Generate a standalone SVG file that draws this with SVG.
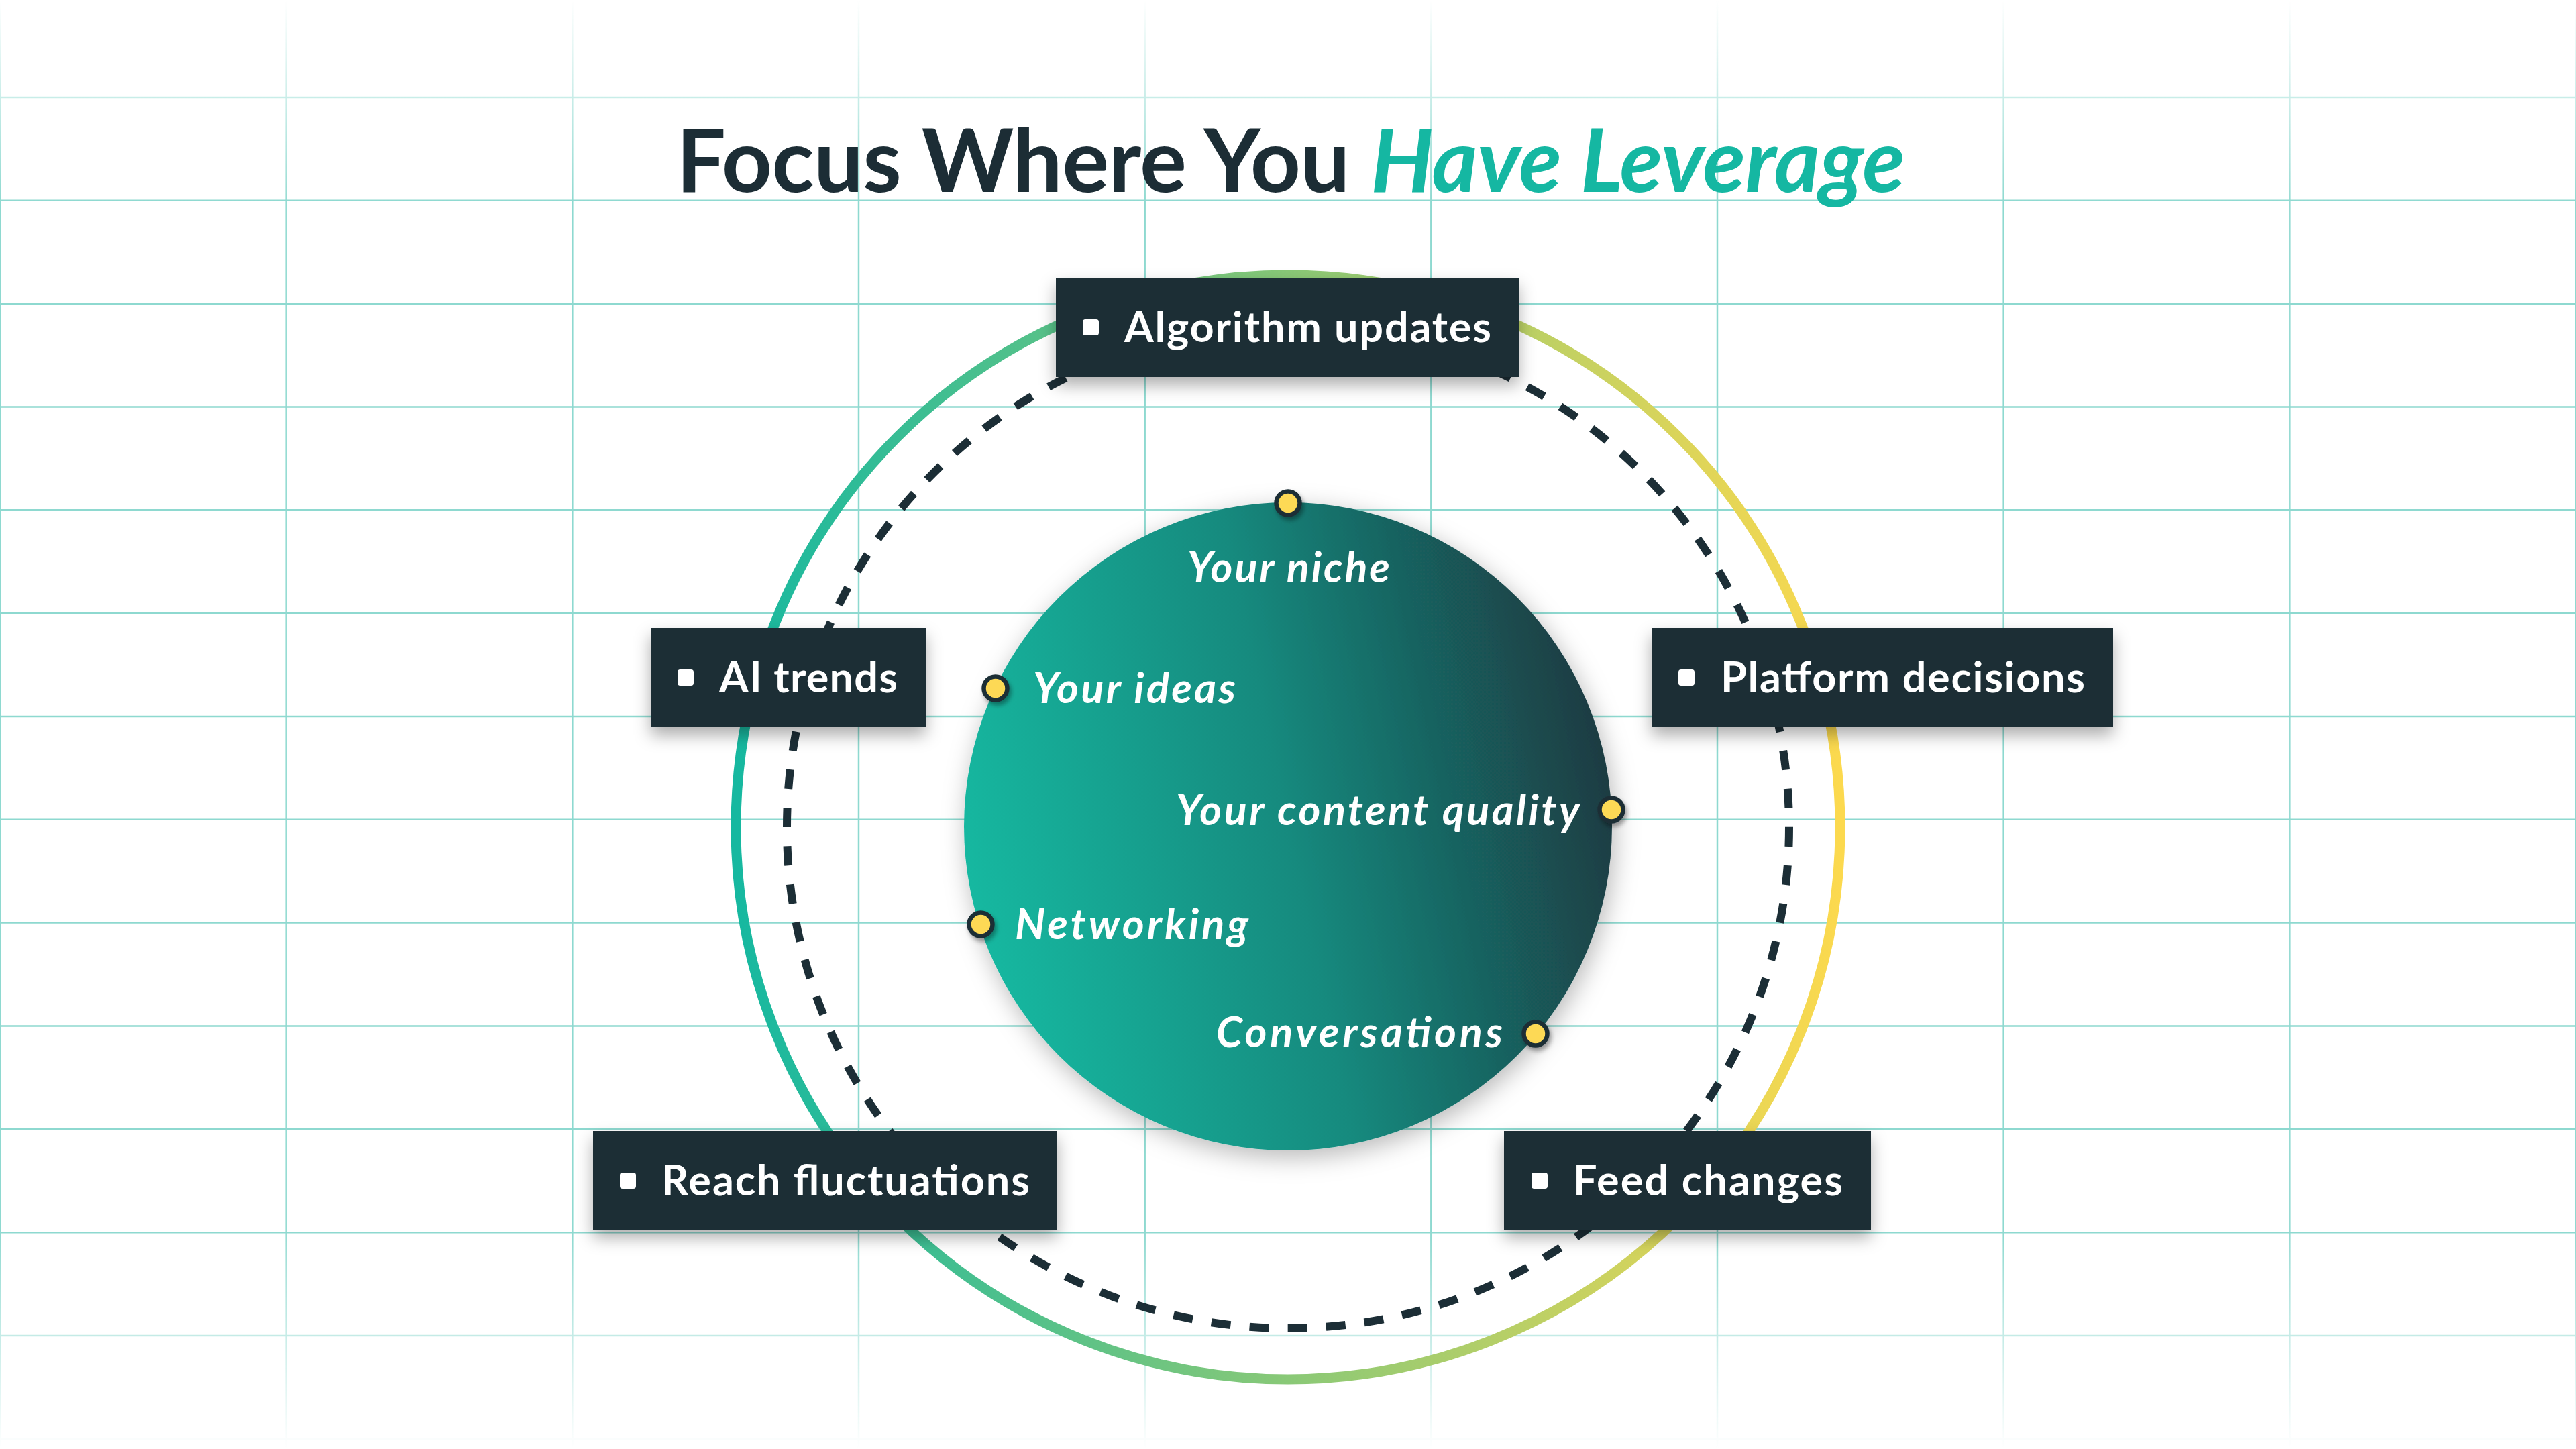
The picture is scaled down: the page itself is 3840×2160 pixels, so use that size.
<svg xmlns="http://www.w3.org/2000/svg" width="3840" height="2160" viewBox="0 0 3840 2160">
  <defs>
    <style>
      .grid { stroke: #8ed9d0; stroke-width: 2.5; fill: none; }
      .box { fill: #1c2e36; }
      .bullet { fill: #ffffff; }
      .blabel { font-family: "Lato", "Liberation Sans", sans-serif; font-weight: 700; font-size: 63px; fill: #ffffff; }
      .ilabel { font-family: "Lato", "Liberation Sans", sans-serif; font-weight: 700; font-style: italic; font-size: 63px; fill: #ffffff; }
      .dot { fill: #fdd954; stroke: #1c2e36; stroke-width: 6.5; }
      .title { font-family: "Lato", "Liberation Sans", sans-serif; font-weight: 700; font-size: 131px; }
    </style>
    <linearGradient id="fadeGrad" x1="0" y1="0" x2="0" y2="2160" gradientUnits="userSpaceOnUse">
      <stop offset="0" stop-color="#fff" stop-opacity="0"/>
      <stop offset="0.14" stop-color="#fff" stop-opacity="1"/>
      <stop offset="0.85" stop-color="#fff" stop-opacity="1"/>
      <stop offset="1" stop-color="#fff" stop-opacity="0"/>
    </linearGradient>
    <mask id="gridMask" maskUnits="userSpaceOnUse" x="0" y="0" width="3840" height="2160">
      <rect x="0" y="0" width="3840" height="2160" fill="url(#fadeGrad)"/>
    </mask>
    <linearGradient id="ringGrad" x1="1097" y1="0" x2="2743" y2="0" gradientUnits="userSpaceOnUse">
      <stop offset="0" stop-color="#16b8a0"/>
      <stop offset="1" stop-color="#fcd94e"/>
    </linearGradient>
    <linearGradient id="coreGrad" x1="1437" y1="1330" x2="2403" y2="1130" gradientUnits="userSpaceOnUse">
      <stop offset="0" stop-color="#14b9a1"/>
      <stop offset="0.5" stop-color="#178a7e"/>
      <stop offset="1" stop-color="#1b3a41"/>
    </linearGradient>
    <filter id="boxShadow" x="-20%" y="-40%" width="140%" height="190%">
      <feDropShadow dx="0" dy="12" stdDeviation="12" flood-color="#000" flood-opacity="0.32"/>
    </filter>
    <filter id="coreShadow" x="-20%" y="-20%" width="140%" height="140%">
      <feDropShadow dx="4" dy="10" stdDeviation="18" flood-color="#000" flood-opacity="0.28"/>
    </filter>
    <filter id="dotShadow" x="-50%" y="-50%" width="200%" height="200%">
      <feDropShadow dx="3" dy="5" stdDeviation="3" flood-color="#000" flood-opacity="0.35"/>
    </filter>
  </defs>

  <rect x="0" y="0" width="3840" height="2160" fill="#ffffff"/>

  <g id="grid" class="grid" mask="url(#gridMask)">
    <path d="M0,0V2160 M426.67,0V2160 M853.33,0V2160 M1280,0V2160 M1706.67,0V2160 M2133.33,0V2160 M2560,0V2160 M2986.67,0V2160 M3413.33,0V2160 M3840,0V2160"/>
    <path d="M0,145H3840 M0,298.8H3840 M0,452.7H3840 M0,606.5H3840 M0,760.3H3840 M0,914.2H3840 M0,1068H3840 M0,1221.8H3840 M0,1375.6H3840 M0,1529.5H3840 M0,1683.3H3840 M0,1837.2H3840 M0,1991H3840 M0,2145H3840"/>
  </g>

  <g id="title">
    <text class="title" x="1008" y="286" textLength="1832"><tspan fill="#1c2d35">Focus Where You </tspan><tspan fill="#15b7a2" font-style="italic">Have Leverage</tspan></text>
  </g>

  <g id="connectors">
    <circle id="outer-ring" cx="1920" cy="1233" r="823" fill="none" stroke="url(#ringGrad)" stroke-width="15"/>
    <circle id="dashed-ring" cx="1920" cy="1233" r="747" fill="none" stroke="#1c2e36" stroke-width="12" stroke-dasharray="29 28.23"/>
  </g>

  <g id="core">
    <circle cx="1920" cy="1232" r="483" fill="url(#coreGrad)" filter="url(#coreShadow)"/>
  </g>

  <g id="inner-your-niche">
    <text class="ilabel" x="1921" y="868" text-anchor="middle" textLength="302">Your niche</text>
    <circle class="dot" cx="1920" cy="750" r="17.5" filter="url(#dotShadow)"/>
  </g>
  <g id="inner-your-ideas">
    <circle class="dot" cx="1484" cy="1026" r="17.5" filter="url(#dotShadow)"/>
    <text class="ilabel" x="1540" y="1048" textLength="302">Your ideas</text>
  </g>
  <g id="inner-content-quality">
    <text class="ilabel" x="1753" y="1230" textLength="602">Your content quality</text>
    <circle class="dot" cx="2402" cy="1207" r="17.5" filter="url(#dotShadow)"/>
  </g>
  <g id="inner-networking">
    <circle class="dot" cx="1462" cy="1378" r="17.5" filter="url(#dotShadow)"/>
    <text class="ilabel" x="1513" y="1400" textLength="348">Networking</text>
  </g>
  <g id="inner-conversations">
    <text class="ilabel" x="1813" y="1561" textLength="427">Conversations</text>
    <circle class="dot" cx="2289" cy="1541" r="17.5" filter="url(#dotShadow)"/>
  </g>

  <g id="node-algorithm-updates">
    <rect class="box" x="1574" y="414" width="690" height="148" filter="url(#boxShadow)"/>
    <rect class="bullet" x="1614" y="476" width="24" height="24" rx="4"/>
    <text class="blabel" x="1676" y="510" textLength="547">Algorithm updates</text>
  </g>
  <g id="node-ai-trends">
    <rect class="box" x="970" y="936" width="410" height="148" filter="url(#boxShadow)"/>
    <rect class="bullet" x="1010" y="998" width="24" height="24" rx="4"/>
    <text class="blabel" x="1072" y="1032" textLength="266">AI trends</text>
  </g>
  <g id="node-platform-decisions">
    <rect class="box" x="2462" y="936" width="688" height="148" filter="url(#boxShadow)"/>
    <rect class="bullet" x="2502" y="998" width="24" height="24" rx="4"/>
    <text class="blabel" x="2565" y="1032" textLength="543">Platform decisions</text>
  </g>
  <g id="node-reach-fluctuations">
    <rect class="box" x="884" y="1686" width="692" height="147" filter="url(#boxShadow)"/>
    <rect class="bullet" x="924" y="1748" width="24" height="24" rx="4"/>
    <text class="blabel" x="986" y="1782" textLength="549">Reach fluctuations</text>
  </g>
  <g id="node-feed-changes">
    <rect class="box" x="2242" y="1686" width="547" height="147" filter="url(#boxShadow)"/>
    <rect class="bullet" x="2283" y="1748" width="24" height="24" rx="4"/>
    <text class="blabel" x="2345" y="1782" textLength="402">Feed changes</text>
  </g>
</svg>
